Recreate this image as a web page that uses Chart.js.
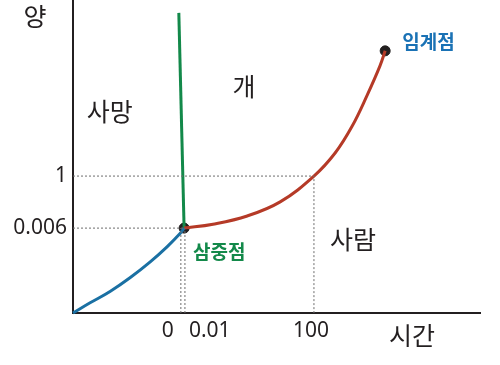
<!DOCTYPE html>
<html>
<head>
<meta charset="utf-8">
<script src="https://cdn.jsdelivr.net/npm/chart.js@4/dist/chart.umd.min.js"></script>
<style>
  html, body { margin: 0; padding: 0; background: #fff; }
  #wrap { width: 500px; height: 365px; position: relative; }
</style>
</head>
<body>
<div id="wrap"><canvas id="phase-chart"></canvas></div>
<script>
// Phase diagram (schematic units, not to scale)
// ------------------------------

// curves
var sublimationX = [0, 0.42, 0.91, 1.40, 1.89, 2.31, 2.63, 2.73];
var sublimationY = [0, 0.26, 0.55, 0.90, 1.30, 1.69, 2.03, 2.17];
var vaporX = [2.73, 3.44, 4.28, 5.09, 5.92, 6.44, 6.86, 7.22, 7.54, 7.67];
var vaporY = [2.17, 2.27, 2.48, 2.84, 3.50, 4.09, 4.78, 5.55, 6.31, 6.70];
var fusionX = [2.73, 2.60];
var fusionY = [2.17, 7.67];

// special points
var pointNames = ['삼중점', '임계점'];
var pointX = [2.73, 7.67];
var pointY = [2.17, 6.70];

// ticks
var xTickValues = [2.65, 2.75, 5.92];
var xTickLabels = ['0', '0.01', '100'];
var yTickValues = [2.17, 3.50];
var yTickLabels = ['0.006', '1'];

// region names
var regionNames = ['사망', '개', '사람'];
var regionX = [0.90, 4.20, 6.88];
var regionY = [5.14, 5.78, 1.87];

var xTitle = '시간';
var yTitle = '양';

function toPoints(xs, ys) {
    return xs.map(function (x, i) { return { x: x, y: ys[i] }; });
}

var INK = '#231f20';
var KFONT = '"Noto Sans CJK KR", "Noto Sans", sans-serif';
var NFONT = '"Noto Sans", "DejaVu Sans", sans-serif';

// dashed guides built from the tick values
var guides = [
    [{ x: 0, y: yTickValues[1] }, { x: xTickValues[2], y: yTickValues[1] }, { x: xTickValues[2], y: 0 }],
    [{ x: 0, y: yTickValues[0] }, { x: pointX[0], y: yTickValues[0] }],
    [{ x: xTickValues[0], y: 0 }, { x: xTickValues[0], y: yTickValues[0] }],
    [{ x: xTickValues[1], y: 0 }, { x: xTickValues[1], y: yTickValues[0] }]
];

var datasets = guides.map(function (g) {
    return {
        data: g,
        showLine: true,
        borderColor: '#6d6d6d',
        borderWidth: 1,
        borderDash: [2, 2],
        pointRadius: 0,
        tension: 0
    };
});

datasets.push({
    data: toPoints(sublimationX, sublimationY),
    showLine: true,
    borderColor: '#1a70a3',
    borderWidth: 3,
    pointRadius: 0,
    tension: 0.4
});
datasets.push({
    data: toPoints(vaporX, vaporY),
    showLine: true,
    borderColor: '#b53a27',
    borderWidth: 3,
    pointRadius: 0,
    tension: 0.4
});
datasets.push({
    data: toPoints(fusionX, fusionY),
    showLine: true,
    borderColor: '#13894a',
    borderWidth: 3,
    pointRadius: 0,
    tension: 0
});
datasets.push({
    data: toPoints(pointX, pointY),
    showLine: false,
    backgroundColor: INK,
    borderColor: INK,
    pointRadius: 5,
    pointHoverRadius: 5
});

// text drawn at data positions through the scales
var labelPlugin = {
    id: 'phaseLabels',
    afterDraw: function (chart) {
        var c = chart.ctx, xs = chart.scales.x, ys = chart.scales.y, area = chart.chartArea;
        c.save();
        c.textBaseline = 'middle';

        // x tick labels (0 sits left of its line, 0.01 right of its line)
        c.fillStyle = INK;
        c.font = '21px ' + NFONT;
        var xAlign = ['right', 'left', 'center'];
        var xShift = [-7, 4, -3];
        xTickLabels.forEach(function (t, i) {
            c.textAlign = xAlign[i];
            c.fillText(t, xs.getPixelForValue(xTickValues[i]) + xShift[i], area.bottom + 18);
        });

        // region names
        c.textAlign = 'center';
        c.font = '25px ' + KFONT;
        regionNames.forEach(function (t, i) {
            c.fillText(t, xs.getPixelForValue(regionX[i]), ys.getPixelForValue(regionY[i]));
        });

        // axis titles
        c.fillText(xTitle, 412, area.bottom + 22);
        c.fillText(yTitle, area.left - 38, 16);

        // point names
        c.font = 'bold 19px ' + KFONT;
        c.textAlign = 'left';
        c.fillStyle = '#13894a';
        c.fillText(pointNames[0], xs.getPixelForValue(pointX[0]) + 9, ys.getPixelForValue(pointY[0]) + 24);
        c.fillStyle = '#1a72b5';
        c.fillText(pointNames[1], xs.getPixelForValue(pointX[1]) + 17, ys.getPixelForValue(pointY[1]) - 9);
        c.restore();
    }
};

var ctx = document.getElementById('phase-chart');

var config = {
    type: 'scatter',
    data: { datasets: datasets },
    options: {
        responsive: true,
        maintainAspectRatio: false,
        animation: false,
        layout: { autoPadding: false, padding: { left: 0, right: 20, top: 0, bottom: 0 } },
        plugins: {
            legend: { display: false },
            tooltip: { enabled: false }
        },
        clip: false,
        scales: {
            x: {
                type: 'linear',
                min: 0,
                max: 10,
                grid: { display: false, drawTicks: false },
                border: { display: true, color: INK, width: 2 },
                ticks: { display: false },
                afterFit: function (s) {
                    s.height = 52;
                    s.paddingLeft = 0; s.paddingRight = 0;
                }
            },
            y: {
                type: 'linear',
                min: 0,
                max: 8,
                grid: { display: false, drawTicks: false },
                border: { display: true, color: INK, width: 2 },
                afterBuildTicks: function (s) {
                    s.ticks = yTickValues.map(function (v) { return { value: v }; });
                },
                ticks: {
                    padding: 6,
                    color: INK,
                    font: { family: NFONT, size: 21 },
                    callback: function (v) {
                        var i = yTickValues.indexOf(v);
                        return i >= 0 ? yTickLabels[i] : '';
                    }
                },
                afterFit: function (s) {
                    s.width = 73;
                    s.paddingTop = 0; s.paddingBottom = 0;
                }
            }
        }
    },
    plugins: [labelPlugin]
};

var phaseChart = new Chart(ctx, config);
</script>
</body>
</html>
